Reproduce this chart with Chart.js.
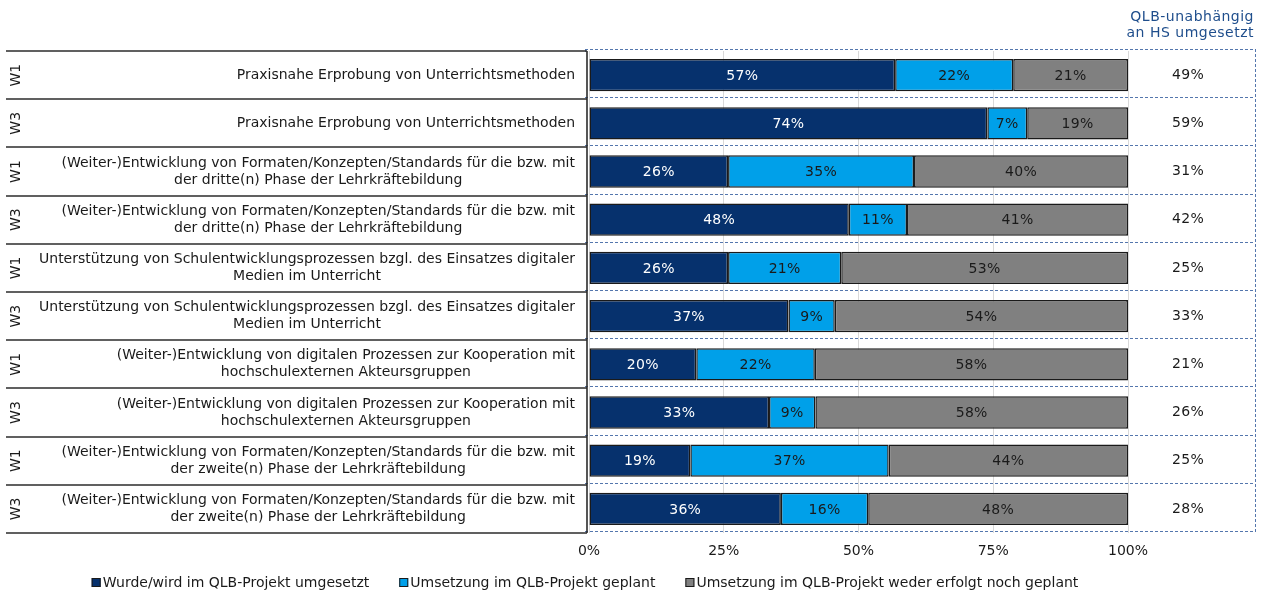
<!DOCTYPE html>
<html lang="de">
<head>
<meta charset="utf-8">
<title>QLB Umsetzung</title>
<script src="https://cdn.jsdelivr.net/npm/chart.js@4.4.1/dist/chart.umd.min.js"></script>
<style>
  html, body { margin: 0; padding: 0; background: #fff; }
  #wrap { position: relative; width: 1261px; height: 597px; }
</style>
</head>
<body>
<div id="wrap"><canvas id="qlb-chart"></canvas></div>
<script>
// Data
const categories = [
    ["Praxisnahe Erprobung von Unterrichtsmethoden"],
    ["Praxisnahe Erprobung von Unterrichtsmethoden"],
    ["(Weiter-)Entwicklung von Formaten/Konzepten/Standards für die bzw. mit", "der dritte(n) Phase der Lehrkräftebildung"],
    ["(Weiter-)Entwicklung von Formaten/Konzepten/Standards für die bzw. mit", "der dritte(n) Phase der Lehrkräftebildung"],
    ["Unterstützung von Schulentwicklungsprozessen bzgl. des Einsatzes digitaler", "Medien im Unterricht"],
    ["Unterstützung von Schulentwicklungsprozessen bzgl. des Einsatzes digitaler", "Medien im Unterricht"],
    ["(Weiter-)Entwicklung von digitalen Prozessen zur Kooperation mit", "hochschulexternen Akteursgruppen"],
    ["(Weiter-)Entwicklung von digitalen Prozessen zur Kooperation mit", "hochschulexternen Akteursgruppen"],
    ["(Weiter-)Entwicklung von Formaten/Konzepten/Standards für die bzw. mit", "der zweite(n) Phase der Lehrkräftebildung"],
    ["(Weiter-)Entwicklung von Formaten/Konzepten/Standards für die bzw. mit", "der zweite(n) Phase der Lehrkräftebildung"],
];
const waves = ["W1", "W3", "W1", "W3", "W1", "W3", "W1", "W3", "W1", "W3"];

const seriesNames = [
    "Wurde/wird im QLB-Projekt umgesetzt",
    "Umsetzung im QLB-Projekt geplant",
    "Umsetzung im QLB-Projekt weder erfolgt noch geplant",
];
const umgesetzt = [56.8, 73.9, 25.8, 48.2, 25.8, 37.0, 19.9, 33.4, 18.8, 35.6];
const geplant   = [21.9, 7.4, 34.5, 10.8, 21.0, 8.6, 22.0, 8.6, 36.8, 16.2];
const weder     = [21.3, 18.7, 39.7, 41.0, 53.2, 54.4, 58.1, 58.0, 44.4, 48.2];

const unabhaengigTitle = ["QLB-unabhängig", "an HS umgesetzt"];
const unabhaengig = [49, 59, 31, 42, 25, 33, 21, 26, 25, 28];

const xTicks = [0, 25, 50, 75, 100];

// ================================
// Styles
// ================================
const FONT = '"DejaVu Sans", Verdana, sans-serif';
const FONT_SIZE = 14;
const COLORS = {
    navy: "#06316d",
    light: "#00a0e9",
    grey: "#808080",
    text: "#1a1a1a",
    dash: "#5476ad",
    header: "#1f4e8c",
};

function hLine(ctx, x1, x2, y) {
    ctx.beginPath();
    ctx.moveTo(x1, y);
    ctx.lineTo(x2, y);
    ctx.stroke();
}

function vLine(ctx, x, y1, y2) {
    ctx.beginPath();
    ctx.moveTo(x, y1);
    ctx.lineTo(x, y2);
    ctx.stroke();
}

// Table, right column, labels and legend around the bars
const tableDecor = {
    id: "tableDecor",
    beforeDatasetsDraw(chart) {
        const { ctx, chartArea: area } = chart;
        const rowH = (area.bottom - area.top) / categories.length;
        ctx.save();
        ctx.strokeStyle = COLORS.dash;
        ctx.lineWidth = 1;
        ctx.setLineDash([3, 2]);
        for (let i = 0; i <= categories.length; i++) {
            const yy = Math.round(area.top + i * rowH) - 1.5;
            hLine(ctx, 585, 1255, yy);
        }
        vLine(ctx, 1255.5, area.top - 2, area.bottom + 1);
        vLine(ctx, 585.5, area.top - 2, area.top + 2);
        ctx.restore();
    },
    afterDatasetsDraw(chart) {
        const { ctx } = chart;
        ctx.save();
        ctx.font = FONT_SIZE + "px " + FONT;
        ctx.letterSpacing = "0.3px";
        ctx.textAlign = "center";
        ctx.textBaseline = "middle";
        chart.data.datasets.forEach((ds, d) => {
            chart.getDatasetMeta(d).data.forEach((bar, i) => {
                const { x, base, y } = bar.getProps(["x", "base", "y"], true);
                ctx.fillStyle = d === 0 ? "#ffffff" : COLORS.text;
                ctx.fillText(Math.round(ds.data[i]) + "%", (x + base) / 2, y + 1);
            });
        });
        ctx.restore();
    },
    afterDraw(chart) {
        const { ctx, chartArea: area, scales: { y } } = chart;
        const rowH = (area.bottom - area.top) / categories.length;
        ctx.save();

        // left table
        ctx.strokeStyle = "#2b2b2b";
        ctx.lineWidth = 1.6;
        for (let i = 0; i <= categories.length; i++) {
            hLine(ctx, 6, 587, Math.round(area.top + i * rowH));
        }
        vLine(ctx, 587, area.top, area.bottom);

        ctx.font = FONT_SIZE + "px " + FONT;
        ctx.fillStyle = COLORS.text;
        ctx.textBaseline = "middle";
        categories.forEach((lines, i) => {
            const cy = y.getPixelForTick(i);
            const widths = lines.map((l) => ctx.measureText(l).width);
            const blockW = Math.max(...widths);
            const right = 575;
            const lh = 17;
            ctx.textAlign = "center";
            lines.forEach((l, k) => {
                const ly = cy + (k - (lines.length - 1) / 2) * lh;
                ctx.fillText(l, right - blockW / 2, ly);
            });
            // wave label, rotated
            ctx.save();
            ctx.translate(16, cy);
            ctx.rotate(-Math.PI / 2);
            ctx.fillText(waves[i], 0, 0);
            ctx.restore();

            // right column values
            ctx.save();
            ctx.letterSpacing = "0.3px";
            ctx.fillText(unabhaengig[i] + "%", 1188, cy);
            ctx.restore();
        });

        // header of right column
        ctx.save();
        ctx.fillStyle = COLORS.header;
        ctx.textAlign = "right";
        ctx.letterSpacing = "0.5px";
        ctx.fillText(unabhaengigTitle[0], 1254, 17);
        ctx.fillText(unabhaengigTitle[1], 1254, 33);
        ctx.restore();

        // legend
        ctx.textAlign = "left";
        const gap = 30;
        const box = 9;
        const items = chart.data.datasets.map((ds) => ({
            label: ds.label,
            color: ds.backgroundColor,
            w: box + 2 + ctx.measureText(ds.label).width,
        }));
        const total = items.reduce((s, it) => s + it.w, 0) + gap * (items.length - 1);
        let lx = 585 - total / 2;
        const ly = 583;
        items.forEach((it) => {
            ctx.fillStyle = it.color;
            ctx.fillRect(lx, ly - 5, box, box);
            ctx.strokeStyle = "#1a1a1a";
            ctx.lineWidth = 1;
            ctx.strokeRect(lx + 0.5, ly - 4.5, box - 1, box - 1);
            ctx.fillStyle = COLORS.text;
            ctx.fillText(it.label, lx + box + 2, ly);
            lx += it.w + gap;
        });

        ctx.restore();
    },
};

// ================================
// Chart
// ================================
const barStyle = {
    borderColor: "#1a1a1a",
    borderWidth: 1.5,
    borderSkipped: false,
    barPercentage: 0.67,
    categoryPercentage: 1,
};

const ctx = document.getElementById("qlb-chart").getContext("2d");
new Chart(ctx, {
    type: "bar",
    data: {
        labels: categories,
        datasets: [
            { label: seriesNames[0], data: umgesetzt, backgroundColor: COLORS.navy, ...barStyle },
            { label: seriesNames[1], data: geplant, backgroundColor: COLORS.light, ...barStyle },
            { label: seriesNames[2], data: weder, backgroundColor: COLORS.grey, ...barStyle },
        ],
    },
    options: {
        indexAxis: "y",
        responsive: true,
        maintainAspectRatio: false,
        animation: false,
        layout: { padding: { top: 51, right: 133, bottom: 34, left: 0 } },
        plugins: {
            legend: { display: false },
            tooltip: { enabled: false },
        },
        scales: {
            x: {
                stacked: true,
                min: 0,
                max: 100,
                afterBuildTicks: (scale) => {
                    scale.ticks = xTicks.map((v) => ({ value: v }));
                },
                afterFit: (scale) => { scale.height = 30; },
                grid: { color: "#d9d9d9", lineWidth: 1, drawTicks: false },
                border: { display: false },
                ticks: {
                    padding: 10,
                    color: COLORS.text,
                    font: { family: FONT, size: FONT_SIZE },
                    callback: (v) => v + "%",
                },
            },
            y: {
                stacked: true,
                afterFit: (scale) => { scale.width = 589; },
                grid: { display: false },
                border: { display: false },
                ticks: { display: false },
            },
        },
    },
    plugins: [tableDecor],
});
</script>
</body>
</html>
